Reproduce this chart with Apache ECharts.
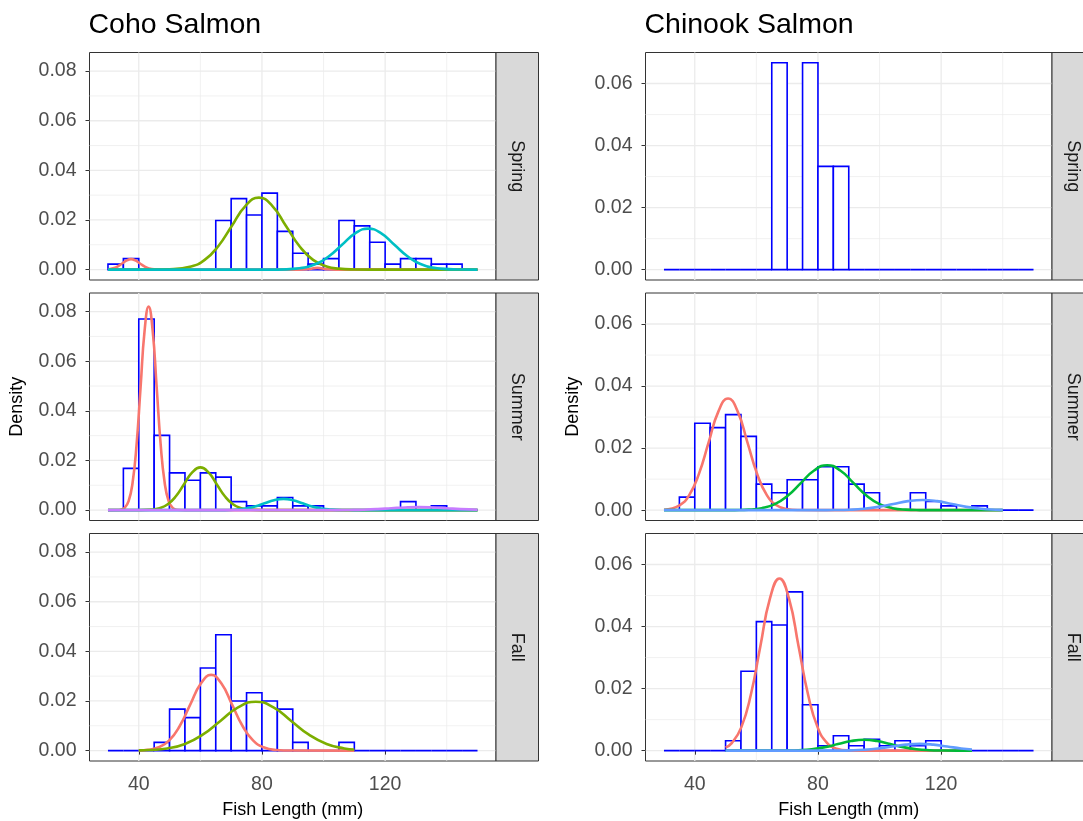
<!DOCTYPE html>
<html><head><meta charset="utf-8">
<script src="https://cdn.jsdelivr.net/npm/echarts@6/dist/echarts.min.js"></script>
<style>html,body{margin:0;padding:0;background:#fff}#c{width:1083px;height:821px}</style>
</head><body><div id="c"></div>
<script>
// ---------- DATA ----------
const binEdges = [30,35,40,45,50,55,60,65,70,75,80,85,90,95,100,105,110,115,120,125,130,135,140,145,150];
const seasons = ['Spring','Summer','Fall'];
const species = ['Coho Salmon','Chinook Salmon'];
const xTicks = [40,80,120];
const xMinor = [60,100,140];
const cohoYTicks = [0,0.02,0.04,0.06,0.08];
const cohoYMinor = [0.01,0.03,0.05,0.07];
const chinookYTicks = [0,0.02,0.04,0.06];
const chinookYMinor = [0.01,0.03,0.05];

const cohoSpringHist = [0.0022,0.0044,0,0,0,0,0,0.0198,0.0286,0.022,0.0308,0.0154,0.0066,0.0022,0.0044,0.0198,0.0176,0.011,0.0022,0.0044,0.0044,0.0022,0.0022,0];
const cohoSummerHist = [0,0.0168,0.077,0.0301,0.015,0.012,0.015,0.0133,0.0034,0.0017,0.0017,0.0051,0.0017,0.0017,0,0,0,0,0,0.0034,0,0.0017,0,0];
const cohoFallHist = [0,0,0,0.0033,0.0167,0.0133,0.0333,0.0467,0.02,0.0233,0.02,0.0167,0.0033,0,0,0.0033,0,0,0,0,0,0,0,0];
const chinookSpringHist = [0,0,0,0,0,0,0,0.0667,0,0.0667,0.0333,0.0333,0,0,0,0,0,0,0,0,0,0,0,0];
const chinookSummerHist = [0,0.0042,0.028,0.0266,0.0308,0.0238,0.0084,0.0056,0.0098,0.0098,0.014,0.014,0.0084,0.0056,0,0,0.0056,0.0028,0.0014,0,0.0014,0,0,0];
const chinookFallHist = [0,0,0,0,0.0032,0.0256,0.0416,0.0405,0.0512,0.0148,0.0016,0.0048,0.0016,0.0037,0.0016,0.0032,0.0016,0.0032,0,0,0,0,0,0];

// fitted component curves, [length, density]
const cohoSpringRed = [[30,0],[32,0.0006],[33.3,0.00136],[34.7,0.00255],[36.1,0.0037],[37.5,0.0042],[38.9,0.0037],[40.3,0.00255],[41.7,0.00136],[43.1,0.00057],[45,0.0001],[48,0],[92,0],[95,0.0002],[98,0.0007],[101,0.0002],[104,0],[150,0]];
const cohoSpringOlive = [[30,0],[45,0],[50,0.00013],[57,0.00127],[61.4,0.0039],[65.8,0.0094],[70.2,0.0176],[74.6,0.0256],[79,0.029],[83.4,0.0256],[87.8,0.0176],[92.2,0.0094],[96.6,0.0039],[101,0.00127],[105,0.00037],[110,0.00006],[115,0],[150,0]];
const cohoSpringCyan = [[30,0],[85,0],[91,0.00037],[97.5,0.00223],[101.75,0.00536],[106,0.01],[110.25,0.01456],[114.5,0.0165],[118.75,0.01456],[123,0.01],[127.25,0.00536],[131.5,0.00223],[138,0.00037],[144,0.00002],[150,0]];

const cohoSummerRed = [[30,0],[33,0.00005],[34,0.00016],[35.4,0.00091],[36.7,0.0036],[38,0.0111],[39.3,0.0266],[40.6,0.0497],[41.9,0.0724],[43.2,0.082],[44.5,0.0724],[45.8,0.0497],[47.1,0.0266],[48.4,0.0111],[49.7,0.0036],[51,0.00091],[52.4,0.00016],[55,0],[150,0]];
const cohoSummerOlive = [[30,0],[40,0],[44,0.00018],[46.75,0.00076],[49.4,0.00233],[52.05,0.00558],[54.7,0.01043],[57.35,0.01518],[60,0.0172],[62.65,0.01518],[65.3,0.01043],[67.95,0.00558],[70.6,0.00233],[73.25,0.00076],[76,0.00018],[80,0],[150,0]];
const cohoSummerCyan = [[30,0],[68,0],[72,0.00024],[74.6,0.00061],[77.7,0.00146],[80.8,0.00273],[83.9,0.00397],[87,0.0045],[90.1,0.00397],[93.2,0.00273],[96.3,0.00146],[99.4,0.00061],[102,0.00024],[106,0.00002],[110,0],[150,0]];
const cohoSummerPurple = [[30,0],[104,0],[108.5,0.00005],[113,0.00016],[117.5,0.00039],[122,0.00073],[126.5,0.00106],[131,0.0012],[135.5,0.00106],[140,0.00073],[144.5,0.00039],[150,0.00013]];

const cohoFallRed = [[40,0.0001],[43,0.00033],[46.5,0.00134],[49.9,0.00413],[53.3,0.0099],[56.7,0.0185],[60.1,0.0269],[63.5,0.0305],[66.9,0.0269],[70.3,0.0185],[73.7,0.0099],[77.1,0.00413],[80.5,0.00134],[84.5,0.00026],[90,0.00002],[110,0]];
const cohoFallOlive = [[40,0.00008],[43.5,0.00022],[49.25,0.00086],[55,0.00267],[60.75,0.0064],[66.5,0.01195],[72.25,0.01739],[78,0.0197],[83.75,0.01739],[89.5,0.01195],[95.25,0.0064],[101,0.00267],[106.75,0.00086],[110,0.00041]];

const chinookSummerRed = [[30,0.00015],[35.05,0.00158],[38.2,0.00487],[41.35,0.01169],[44.5,0.02183],[47.65,0.03177],[50.8,0.036],[53.95,0.03177],[57.1,0.02183],[60.25,0.01169],[63.4,0.00487],[66.55,0.00158],[69.7,0.0004],[74,0.00005],[80,0],[140,0]];
const chinookSummerGreen = [[30,0],[50,0],[53,0.00003],[57.5,0.00016],[61.75,0.00064],[66,0.00196],[70.25,0.00471],[74.5,0.00879],[78.75,0.0128],[83,0.0145],[87.25,0.0128],[91.5,0.00879],[95.75,0.00471],[100,0.00196],[104.25,0.00064],[108.5,0.00016],[113,0.00003],[118,0],[140,0]];
const chinookSummerBlue = [[30,0],[80,0.00001],[85.5,0.00004],[90.25,0.00014],[95,0.00045],[99.75,0.00107],[104.5,0.002],[109.25,0.00291],[114,0.0033],[118.75,0.00291],[123.5,0.002],[128.25,0.00107],[133,0.00045],[137.75,0.00014],[140,0.00008]];

const chinookFallRed = [[50,0.00104],[52,0.00244],[55.1,0.00751],[58.2,0.01802],[61.3,0.03366],[64.4,0.04898],[67.5,0.0555],[70.6,0.04898],[73.7,0.03366],[76.8,0.01802],[79.9,0.00751],[83,0.00244],[86.1,0.00062],[90,0.00007],[95,0],[130,0]];
const chinookFallGreen = [[50,0],[65,0],[69.5,0.00004],[73.75,0.00015],[78,0.00047],[82.25,0.00114],[86.5,0.00212],[90.75,0.00309],[95,0.0035],[99.25,0.00309],[103.5,0.00212],[107.75,0.00114],[112,0.00047],[116.25,0.00015],[120.5,0.00004],[125,0],[130,0]];
const chinookFallBlue = [[50,0],[82,0],[86,0.00002],[90.5,0.0001],[95,0.0003],[99.5,0.00071],[104,0.00133],[108.5,0.00194],[113,0.0022],[117.5,0.00194],[122,0.00133],[126.5,0.00071],[130,0.00036]];

// ---------- STYLE / LAYOUT ----------
const FONT = "'Liberation Sans', Arial, Helvetica, sans-serif";
const C = {red:'#F8766D', olive:'#7CAE00', cyan:'#00BFC4', purple:'#C77CFF', green:'#00BA38', blue:'#619CFF'};
const colLeft = [89.5, 645.5];
const panelW = 406.5;
const rowTop = [52.5, 293, 533.5];
const panelH = 227.5;
const stripW = 42.5;
const yRange = [{min:-0.0042, max:0.0875}, {min:-0.00333, max:0.07}];

const panels = [
  {col:0,row:0,hist:cohoSpringHist,curves:[[cohoSpringRed,C.red],[cohoSpringOlive,C.olive],[cohoSpringCyan,C.cyan]]},
  {col:0,row:1,hist:cohoSummerHist,curves:[[cohoSummerRed,C.red],[cohoSummerOlive,C.olive],[cohoSummerCyan,C.cyan],[cohoSummerPurple,C.purple]]},
  {col:0,row:2,hist:cohoFallHist,curves:[[cohoFallRed,C.red],[cohoFallOlive,C.olive]]},
  {col:1,row:0,hist:chinookSpringHist,curves:[]},
  {col:1,row:1,hist:chinookSummerHist,curves:[[chinookSummerRed,C.red],[chinookSummerGreen,C.green],[chinookSummerBlue,C.blue]]},
  {col:1,row:2,hist:chinookFallHist,curves:[[chinookFallRed,C.red],[chinookFallGreen,C.green],[chinookFallBlue,C.blue]]}
];

const grid = [], xAxis = [], yAxis = [], series = [], graphic = [];

panels.forEach((p, i) => {
  const bottom = p.row === 2;
  const yT = p.col === 0 ? cohoYTicks : chinookYTicks;
  const yM = p.col === 0 ? cohoYMinor : chinookYMinor;
  grid.push({left: colLeft[p.col], top: rowTop[p.row], width: panelW, height: panelH,
    show: true, borderColor: '#333333', borderWidth: 1, backgroundColor: '#FFFFFF',
    containLabel: false, outerBoundsMode: 'none'});
  xAxis.push({gridIndex: i, type: 'value', min: 24, max: 156,
    splitLine: {show: false}, axisLine: {show: false},
    axisTick: {show: bottom, customValues: xTicks, length: 4, lineStyle: {color: '#333333', width: 1}},
    axisLabel: {show: bottom, customValues: xTicks, fontSize: 19.5, fontFamily: FONT, color: '#4D4D4D', margin: 14}});
  yAxis.push({gridIndex: i, type: 'value', min: yRange[p.col].min, max: yRange[p.col].max,
    splitLine: {show: false}, axisLine: {show: false},
    axisTick: {show: true, customValues: yT, length: 4, lineStyle: {color: '#333333', width: 1}},
    axisLabel: {show: true, customValues: yT, fontSize: 19.5, fontFamily: FONT, color: '#4D4D4D', margin: 13,
      formatter: v => Number(v).toFixed(2)}});
  // grid lines
  const gridData = [];
  xTicks.forEach(v => gridData.push([v, 0, 0]));
  xMinor.forEach(v => gridData.push([v, 0, 1]));
  yT.forEach(v => gridData.push([30, v, 2]));
  yM.forEach(v => gridData.push([30, v, 3]));
  series.push({type: 'custom', xAxisIndex: i, yAxisIndex: i, z: 0, silent: true, animation: false,
    data: gridData,
    renderItem: (params, api) => {
      const kind = api.value(2);
      const cs = params.coordSys;
      if (kind < 2) {
        const pt = api.coord([api.value(0), 0]);
        return {type: 'line', shape: {x1: pt[0], y1: cs.y, x2: pt[0], y2: cs.y + cs.height},
          style: {stroke: '#EBEBEB', lineWidth: kind === 0 ? 1.3 : 0.7}};
      }
      const pt = api.coord([30, api.value(1)]);
      return {type: 'line', shape: {x1: cs.x, y1: pt[1], x2: cs.x + cs.width, y2: pt[1]},
        style: {stroke: '#EBEBEB', lineWidth: kind === 2 ? 1.3 : 0.7}};
    }});
  // histogram
  const histData = p.hist.map((d, k) => [binEdges[k], binEdges[k + 1], d]);
  series.push({type: 'custom', xAxisIndex: i, yAxisIndex: i, z: 1, silent: true, animation: false,
    encode: {x: [0, 1], y: 2},
    data: histData,
    renderItem: (params, api) => {
      const a = api.coord([api.value(0), api.value(2)]);
      const b = api.coord([api.value(1), 0]);
      return {type: 'rect', shape: {x: a[0], y: a[1], width: b[0] - a[0], height: b[1] - a[1]},
        style: {fill: '#FFFFFF', stroke: '#0000FF', lineWidth: 1.6}};
    }});
  // curves
  p.curves.forEach(([d, col]) => {
    series.push({type: 'line', xAxisIndex: i, yAxisIndex: i, z: 3, data: d, showSymbol: false,
      smooth: 0.5, silent: true, animation: false,
      lineStyle: {color: col, width: 2.6}});
  });
  // strip
  const sx = colLeft[p.col] + panelW;
  graphic.push({type: 'rect', shape: {x: sx, y: rowTop[p.row], width: stripW, height: panelH},
    style: {fill: '#D9D9D9', stroke: '#333333', lineWidth: 1}, z: 10});
  graphic.push({type: 'text', x: sx + stripW / 2, y: rowTop[p.row] + panelH / 2, rotation: -Math.PI / 2, z: 11,
    style: {text: seasons[p.row], fontSize: 18, fontFamily: FONT, fill: '#1A1A1A',
      align: 'center', verticalAlign: 'middle', textAlign: 'center', textVerticalAlign: 'middle'}});
});

[0, 1].forEach(c => {
  const cx = colLeft[c] + panelW / 2;
  graphic.push({type: 'text', x: colLeft[c] - 1, y: 25, z: 11,
    style: {text: species[c], fontSize: 28.5, fontFamily: FONT, fill: '#000000',
      align: 'left', verticalAlign: 'middle', textAlign: 'left', textVerticalAlign: 'middle'}});
  graphic.push({type: 'text', x: cx, y: 810, z: 11,
    style: {text: 'Fish Length (mm)', fontSize: 18, fontFamily: FONT, fill: '#000000',
      align: 'center', verticalAlign: 'middle', textAlign: 'center', textVerticalAlign: 'middle'}});
  graphic.push({type: 'text', x: colLeft[c] - 72, y: (rowTop[0] + rowTop[2] + panelH) / 2, rotation: Math.PI / 2, z: 11,
    style: {text: 'Density', fontSize: 18, fontFamily: FONT, fill: '#000000',
      align: 'center', verticalAlign: 'middle', textAlign: 'center', textVerticalAlign: 'middle'}});
});

const chart = echarts.init(document.getElementById('c'), null, {renderer: 'canvas'});
chart.setOption({backgroundColor: '#FFFFFF', animation: false, grid, xAxis, yAxis, series, graphic});
</script>
</body></html>
